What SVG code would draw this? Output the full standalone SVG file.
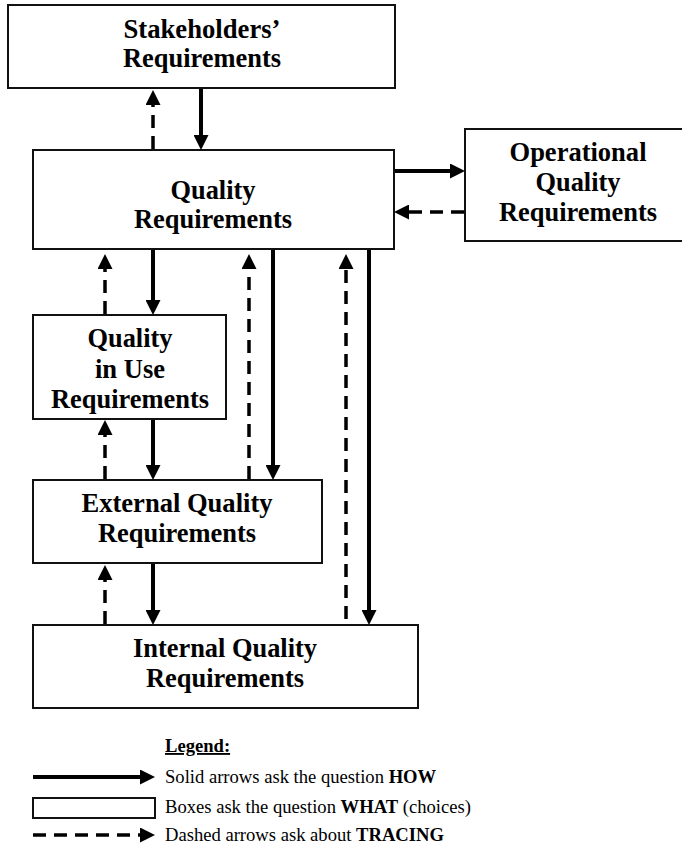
<svg xmlns="http://www.w3.org/2000/svg" width="682" height="852" viewBox="0 0 682 852">
<style>
.box{fill:#fff;stroke:#111;stroke-width:2}
.lbl{font-family:"Liberation Serif","Times New Roman",serif;font-weight:bold;font-size:27px;fill:#000;text-anchor:middle}
.solid{stroke:#000;stroke-width:4;fill:none;marker-end:url(#ah)}
.dash{stroke:#000;stroke-width:3.5;fill:none;stroke-dasharray:13 8;marker-end:url(#ah)}
.leg{font-family:"Liberation Serif","Times New Roman",serif;font-size:18.6px;fill:#000}
</style>
<defs>
<marker id="ah" markerUnits="userSpaceOnUse" markerWidth="15" markerHeight="15" refX="0" refY="7.5" orient="auto" viewBox="0 0 15 15">
<path d="M0,0 L15,7.5 L0,15 z" fill="#000"/>
</marker>
</defs>
<rect width="682" height="852" fill="#fff"/>
<g id="stakeholders">
<rect class="box" x="8" y="5" width="387" height="83"/>
<text class="lbl" x="202" y="38" textLength="157" lengthAdjust="spacingAndGlyphs">Stakeholders’</text>
<text class="lbl" x="202" y="67" textLength="158" lengthAdjust="spacingAndGlyphs">Requirements</text>
</g>
<g id="quality">
<rect class="box" x="33" y="150" width="361" height="99"/>
<text class="lbl" x="213" y="199" textLength="85" lengthAdjust="spacingAndGlyphs">Quality</text>
<text class="lbl" x="213" y="228" textLength="158" lengthAdjust="spacingAndGlyphs">Requirements</text>
</g>
<g id="operational">
<rect class="box" x="465" y="129" width="225" height="112"/>
<text class="lbl" x="578" y="161" textLength="137" lengthAdjust="spacingAndGlyphs">Operational</text>
<text class="lbl" x="578" y="191" textLength="85" lengthAdjust="spacingAndGlyphs">Quality</text>
<text class="lbl" x="578" y="221" textLength="158" lengthAdjust="spacingAndGlyphs">Requirements</text>
</g>
<g id="quality-in-use">
<rect class="box" x="33" y="315" width="193" height="104"/>
<text class="lbl" x="130" y="347" textLength="85" lengthAdjust="spacingAndGlyphs">Quality</text>
<text class="lbl" x="130" y="378" textLength="70" lengthAdjust="spacingAndGlyphs">in Use</text>
<text class="lbl" x="130" y="408" textLength="158" lengthAdjust="spacingAndGlyphs">Requirements</text>
</g>
<g id="external">
<rect class="box" x="33" y="480" width="289" height="83"/>
<text class="lbl" x="177" y="512" textLength="191" lengthAdjust="spacingAndGlyphs">External Quality</text>
<text class="lbl" x="177" y="542" textLength="158" lengthAdjust="spacingAndGlyphs">Requirements</text>
</g>
<g id="internal">
<rect class="box" x="33" y="625" width="385" height="83"/>
<text class="lbl" x="225" y="657" textLength="184" lengthAdjust="spacingAndGlyphs">Internal Quality</text>
<text class="lbl" x="225" y="687" textLength="158" lengthAdjust="spacingAndGlyphs">Requirements</text>
</g>
<g id="connectors">
<line class="solid" x1="201" y1="89" x2="201" y2="135"/>
<line class="solid" x1="153" y1="250" x2="153" y2="300"/>
<line class="solid" x1="153" y1="420" x2="153" y2="465"/>
<line class="solid" x1="153" y1="564" x2="153" y2="610"/>
<line class="solid" x1="273" y1="250" x2="273" y2="465"/>
<line class="solid" x1="369" y1="250" x2="369" y2="610"/>
<line class="solid" x1="395" y1="171" x2="450" y2="171"/>
<line class="dash" x1="153" y1="149" x2="153" y2="105"/>
<line class="dash" x1="105" y1="314" x2="105" y2="269"/>
<line class="dash" x1="105" y1="479" x2="105" y2="435"/>
<line class="dash" x1="105" y1="624" x2="105" y2="580"/>
<line class="dash" x1="249" y1="479" x2="249" y2="269"/>
<line class="dash" x1="346" y1="619" x2="346" y2="269"/>
<line class="dash" x1="464" y1="212" x2="409" y2="212"/>
</g>
<g id="legend">
<text class="leg" x="165" y="752" font-weight="bold" text-decoration="underline">Legend:</text>
<line class="solid" x1="33" y1="777" x2="140" y2="777"/>
<text class="leg" x="165" y="783">Solid arrows ask the question <tspan font-weight="bold">HOW</tspan></text>
<rect class="box" x="33" y="798" width="122" height="20"/>
<text class="leg" x="165" y="813">Boxes ask the question <tspan font-weight="bold">WHAT</tspan> (choices)</text>
<line class="dash" x1="33" y1="835" x2="140" y2="835"/>
<text class="leg" x="165" y="841">Dashed arrows ask about <tspan font-weight="bold">TRACING</tspan></text>
</g>
</svg>
